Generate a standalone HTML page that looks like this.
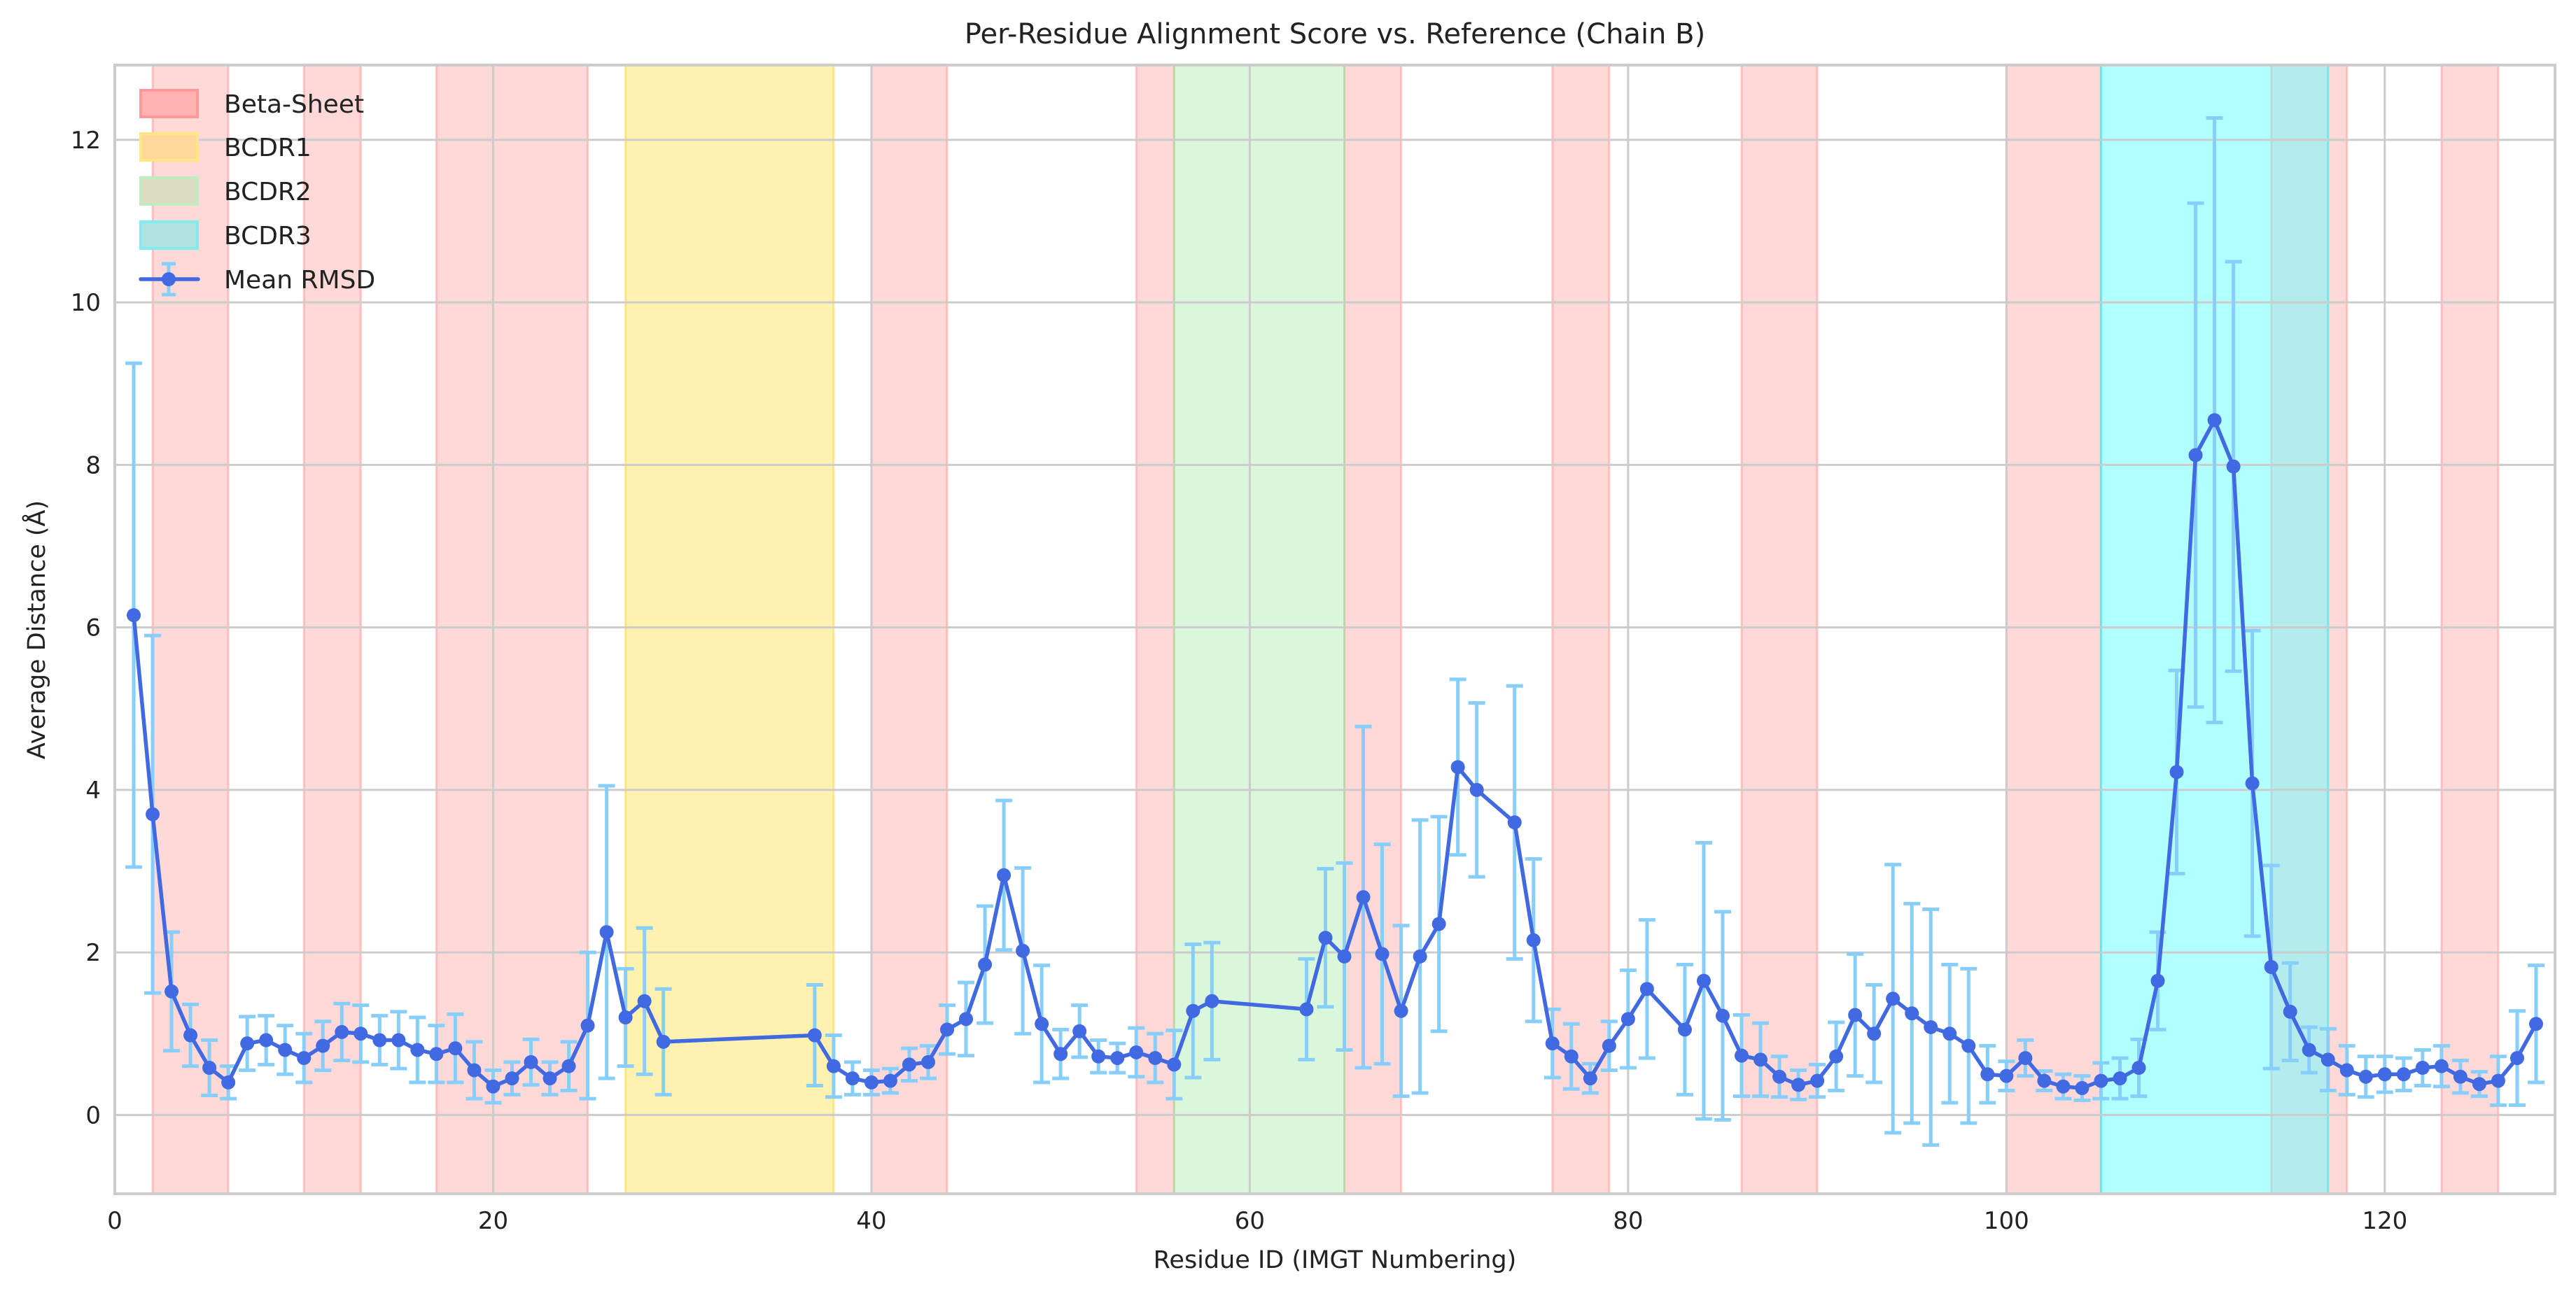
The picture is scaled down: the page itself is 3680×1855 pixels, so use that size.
<!DOCTYPE html>
<html><head><meta charset="utf-8"><style>
html,body{margin:0;padding:0;background:#fff}
svg{display:block;font-family:"DejaVu Sans","Liberation Sans",sans-serif}
</style></head><body>
<svg id="chart" width="3680" height="1855" viewBox="0 0 3680 1855" xmlns="http://www.w3.org/2000/svg">
<rect width="3680" height="1855" fill="#fff"/>
<g id="regions"></g>
<g id="grid"></g>
<g id="axes"></g>
<g id="errs"></g>
<g id="line"></g>
<g id="legend"></g>
<text x="1907" y="62" font-size="40" text-anchor="middle" fill="#222">Per-Residue Alignment Score vs. Reference (Chain B)</text>
<text x="1907" y="1812" font-size="35" text-anchor="middle" fill="#222">Residue ID (IMGT Numbering)</text>
<text x="0" y="0" font-size="35" text-anchor="middle" fill="#222" transform="translate(64,900) rotate(-90)">Average Distance (Å)</text>
</svg>
<script>
const residues=[1,2,3,4,5,6,7,8,9,10,11,12,13,14,15,16,17,18,19,20,21,22,23,24,25,26,27,28,29,37,38,39,40,41,42,43,44,45,46,47,48,49,50,51,52,53,54,55,56,57,58,63,64,65,66,67,68,69,70,71,72,74,75,76,77,78,79,80,81,83,84,85,86,87,88,89,90,91,92,93,94,95,96,97,98,99,100,101,102,103,104,105,106,107,108,109,110,111,112,113,114,115,116,117,118,119,120,121,122,123,124,125,126,127,128];
const meanRmsd=[6.15,3.7,1.52,0.98,0.58,0.4,0.88,0.92,0.8,0.7,0.85,1.02,1.0,0.92,0.92,0.8,0.75,0.82,0.55,0.35,0.45,0.65,0.45,0.6,1.1,2.25,1.2,1.4,0.9,0.98,0.6,0.45,0.4,0.42,0.62,0.65,1.05,1.18,1.85,2.95,2.02,1.12,0.75,1.03,0.72,0.7,0.77,0.7,0.62,1.28,1.4,1.3,2.18,1.95,2.68,1.98,1.28,1.95,2.35,4.28,4.0,3.6,2.15,0.88,0.72,0.45,0.85,1.18,1.55,1.05,1.65,1.22,0.73,0.68,0.47,0.37,0.42,0.72,1.23,1.0,1.43,1.25,1.08,1.0,0.85,0.5,0.48,0.7,0.42,0.35,0.33,0.42,0.45,0.58,1.65,4.22,8.12,8.55,7.98,4.08,1.82,1.27,0.8,0.68,0.55,0.47,0.5,0.5,0.58,0.6,0.47,0.38,0.42,0.7,1.12];
const stdRmsd=[3.1,2.2,0.73,0.38,0.34,0.2,0.33,0.3,0.3,0.3,0.3,0.35,0.35,0.3,0.35,0.4,0.35,0.42,0.35,0.2,0.2,0.28,0.2,0.3,0.9,1.8,0.6,0.9,0.65,0.62,0.38,0.2,0.15,0.15,0.2,0.2,0.3,0.45,0.72,0.92,1.02,0.72,0.3,0.32,0.2,0.18,0.3,0.3,0.42,0.82,0.72,0.62,0.85,1.15,2.1,1.35,1.05,1.68,1.32,1.08,1.07,1.68,1.0,0.42,0.4,0.18,0.3,0.6,0.85,0.8,1.7,1.28,0.5,0.45,0.25,0.18,0.2,0.42,0.75,0.6,1.65,1.35,1.45,0.85,0.95,0.35,0.18,0.22,0.12,0.15,0.15,0.22,0.25,0.35,0.6,1.25,3.1,3.72,2.52,1.88,1.25,0.6,0.28,0.38,0.3,0.25,0.22,0.2,0.22,0.25,0.2,0.15,0.3,0.58,0.72];
const betaStarts=[2,10,17,40,54,65,76,86,100,114,123];
const betaEnds=[6,13,25,44,56,68,79,90,105,118,126];
const cdrNames=["BCDR1","BCDR2","BCDR3"];
const cdrStarts=[27,56,105];
const cdrEnds=[38,65,117];
const xTicks=[0,20,40,60,80,100,120];
const yTicks=[0,2,4,6,8,10,12];

const L=164,R=3650,T=93,B=1706,X0=0,X1=129,Y0=-0.97,Y1=12.92;
const sx=v=>L+(v-X0)/(X1-X0)*(R-L);
const sy=v=>B-(v-Y0)/(Y1-Y0)*(B-T);
const NS="http://www.w3.org/2000/svg";
function mk(tag,attrs,parent){const e=document.createElementNS(NS,tag);for(const k in attrs)e.setAttribute(k,attrs[k]);parent.appendChild(e);return e;}
const gReg=document.getElementById('regions'),gGrid=document.getElementById('grid'),gAx=document.getElementById('axes'),gErr=document.getElementById('errs'),gLine=document.getElementById('line'),gLeg=document.getElementById('legend');

const cdrFill=["#ffe770","#b8f0b8","#66ffff"],cdrStroke=["#ffd84a","#a0e0a0","#33eeee"],cdrOp=[0.55,0.5,0.5];
for(let i=0;i<betaStarts.length;i++){
  const r=mk('rect',{x:sx(betaStarts[i]),y:T,width:sx(betaEnds[i])-sx(betaStarts[i]),height:B-T,fill:'#ff9999','fill-opacity':0.38,stroke:'#ff8080','stroke-opacity':0.4,'stroke-width':3},gReg);
  
  
}
for(let i=0;i<cdrStarts.length;i++){
  const r=mk('rect',{x:sx(cdrStarts[i]),y:T,width:sx(cdrEnds[i])-sx(cdrStarts[i]),height:B-T,fill:cdrFill[i],'fill-opacity':cdrOp[i],stroke:cdrStroke[i],'stroke-opacity':0.6,'stroke-width':3},gReg);
  
  
}
xTicks.forEach(t=>{
  const l=mk('line',{x1:sx(t),x2:sx(t),y1:T,y2:B,stroke:'#cccccc','stroke-width':3},gGrid);
  
  
  const tx=mk('text',{x:sx(t),y:B+50,'font-size':34,'text-anchor':'middle',fill:'#222'},gAx);
  tx.textContent=t;
  
  
});
yTicks.forEach(t=>{
  const l=mk('line',{x1:L,x2:R,y1:sy(t),y2:sy(t),stroke:'#cccccc','stroke-width':3},gGrid);
  
  
  const tx=mk('text',{x:L-20,y:sy(t)+12,'font-size':34,'text-anchor':'end',fill:'#222'},gAx);
  tx.textContent=t;
  
  
});
const frame=mk('rect',{x:L,y:T,width:R-L,height:B-T,fill:'none',stroke:'#cccccc','stroke-width':4},gAx);



for(let i=0;i<residues.length;i++){
  const x=sx(residues[i]),y1=sy(meanRmsd[i]-stdRmsd[i]),y2=sy(meanRmsd[i]+stdRmsd[i]);
  const g=mk('g',{stroke:'#87cefa','stroke-width':5},gErr);
  
  
  mk('line',{x1:x,x2:x,y1:y1,y2:y2},g);
  mk('line',{x1:x-12,x2:x+12,y1:y1,y2:y1},g);
  mk('line',{x1:x-12,x2:x+12,y1:y2,y2:y2},g);
}
const pts=residues.map((r,i)=>sx(r)+','+sy(meanRmsd[i])).join(' ');
const pl=mk('polyline',{points:pts,fill:'none',stroke:'#4169e1','stroke-width':5.5,'stroke-linejoin':'round'},gLine);


for(let i=0;i<residues.length;i++){
  const c=mk('circle',{cx:sx(residues[i]),cy:sy(meanRmsd[i]),r:10,fill:'#4169e1'},gLine);
  
  
}

const legLabels=["Beta-Sheet","BCDR1","BCDR2","BCDR3"];
const legFill=["#ffb3b3","#fdd89a","#dcdcc0","#b0e4e2"],legStroke=["#ff9999","#ffe680","#c0ecc0","#80ecec"];
const legY=[148,210,273,336,399];
for(let i=0;i<4;i++){
  const g=mk('g',{},gLeg);
  
  
  mk('rect',{x:201,y:legY[i]-19,width:81,height:38,fill:legFill[i],stroke:legStroke[i],'stroke-width':4},g);
  const t=mk('text',{x:320,y:legY[i]+13,'font-size':36,fill:'#222'},g);
  t.textContent=legLabels[i];
}
const gm=mk('g',{},gLeg);


mk('line',{x1:241,x2:241,y1:legY[4]-22,y2:legY[4]+22,stroke:'#87cefa','stroke-width':5},gm);
mk('line',{x1:231,x2:251,y1:legY[4]-22,y2:legY[4]-22,stroke:'#87cefa','stroke-width':5},gm);
mk('line',{x1:231,x2:251,y1:legY[4]+22,y2:legY[4]+22,stroke:'#87cefa','stroke-width':5},gm);
mk('line',{x1:201,x2:283,y1:legY[4],y2:legY[4],stroke:'#4169e1','stroke-width':5.5,'stroke-linecap':'round'},gm);
mk('circle',{cx:241,cy:legY[4],r:10,fill:'#4169e1'},gm);
const tm=mk('text',{x:320,y:legY[4]+13,'font-size':36,fill:'#222'},gm);
tm.textContent="Mean RMSD";
</script>
</body></html>
